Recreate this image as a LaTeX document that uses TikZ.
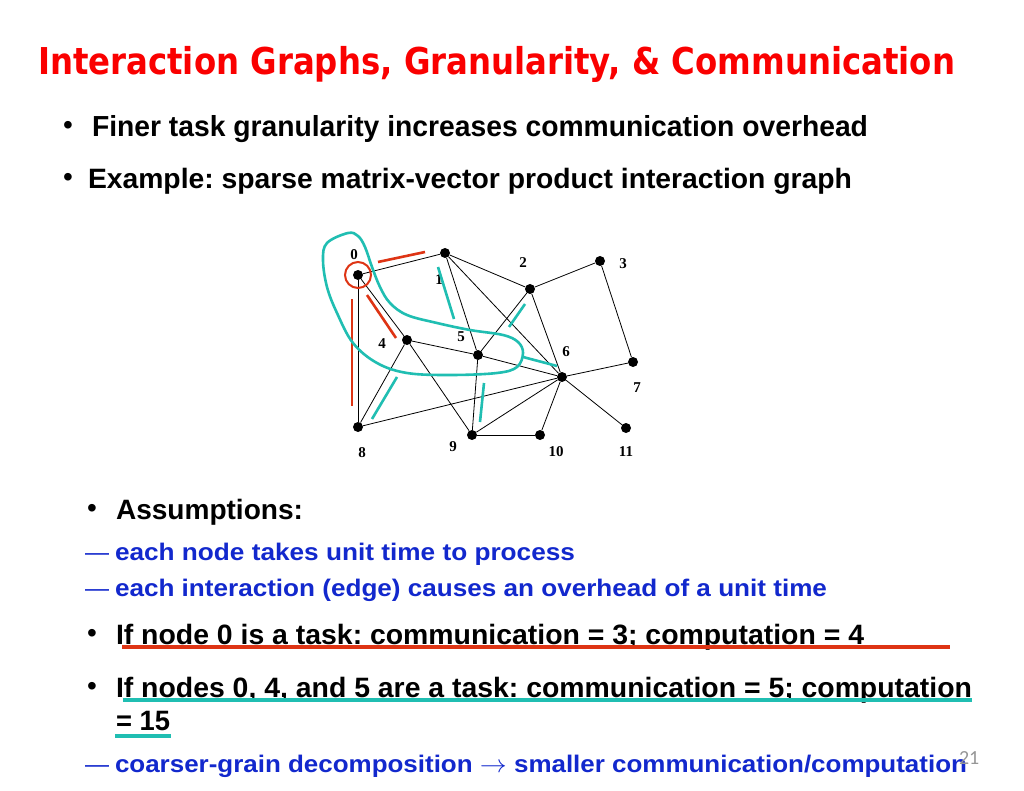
\documentclass[tikz,border=0pt]{standalone}
\usepackage{fontspec}
\setmainfont{Liberation Sans}
\newfontfamily\titlefont{DejaVu Sans}
\newfontfamily\serifb{Liberation Serif}
\newfontfamily\pagefont{Carlito}
\usepackage{graphicx}
\frenchspacing
\definecolor{titlered}{RGB}{250,0,0}
\definecolor{markred}{RGB}{222,52,20}
\definecolor{markteal}{RGB}{32,190,178}
\definecolor{textblue}{RGB}{18,40,205}
\definecolor{pagegray}{RGB}{150,150,150}
\newcommand{\fitw}[2]{\resizebox{#1pt}{\height}{#2}}
\tikzset{
  txt/.style={inner sep=0pt, outer sep=0pt, anchor=base west},
  dot/.style={circle, fill=black, inner sep=0pt, minimum size=10pt},
  edge/.style={draw=black, line width=0.8pt},
  lbl/.style={inner sep=0pt, font=\serifb\bfseries\fontsize{15}{15}\selectfont},
  redstroke/.style={draw=markred, line width=2.6pt},
  tealstroke/.style={draw=markteal, line width=2.6pt},
  bul/.style={inner sep=0pt, outer sep=0pt, anchor=base west, font=\fontsize{28}{30}\selectfont},
}
\begin{document}
\begin{tikzpicture}[x=1pt,y=-1pt]
\useasboundingbox[fill=white] (0,0) rectangle (1024,791);

% title
\node[txt, text=titlered] (title) at (38,75) {\fitw{917}{\titlefont\fontsize{37}{40}\selectfont\bfseries Interaction Graphs, Granularity, \& Communication}};

% bullets top
\node[bul] (b1) at (63,135) {•};
\node[txt] (t1) at (92,137) {\fitw{776}{\fontsize{29}{32}\selectfont\bfseries Finer task granularity increases communication overhead}};
\node[bul] (b2) at (63,187) {•};
\node[txt] (t2) at (88,189) {\fitw{764}{\fontsize{28}{32}\selectfont\bfseries Example: sparse matrix-vector product interaction graph}};

% graph nodes
\node[dot] (n0) at (358,275) {};
\node[dot] (n1) at (445,253) {};
\node[dot] (n2) at (530,289) {};
\node[dot] (n3) at (600,261) {};
\node[dot] (n4) at (407,340) {};
\node[dot] (n5) at (478,355) {};
\node[dot] (n6) at (562,377) {};
\node[dot] (n7) at (633,362) {};
\node[dot] (n8) at (358,427) {};
\node[dot] (n9) at (472,435) {};
\node[dot] (n10) at (540,435) {};
\node[dot] (n11) at (626,428) {};

\foreach \a/\b in {n0/n1,n0/n4,n0/n8,n1/n5,n1/n2,n1/n6,n2/n3,n2/n5,n2/n6,n3/n7,n4/n5,n4/n8,n4/n9,n5/n6,n5/n9,n6/n7,n6/n8,n6/n9,n6/n10,n6/n11,n9/n10}
  \draw[edge] (\a) -- (\b);

% labels
\node[lbl] (l0) at (354,255) {0};
\node[lbl] (l1) at (439,280) {1};
\node[lbl] (l2) at (523,263) {2};
\node[lbl] (l3) at (623,264) {3};
\node[lbl] (l4) at (382,344) {4};
\node[lbl] (l5) at (461,337) {5};
\node[lbl] (l6) at (566,352) {6};
\node[lbl] (l7) at (637,388) {7};
\node[lbl] (l8) at (362,453) {8};
\node[lbl] (l9) at (453,447) {9};
\node[lbl] (l10) at (556,452) {10};
\node[lbl] (l11) at (626,452) {11};

% red annotations
\node[circle, draw=markred, line width=2pt, minimum size=26pt, inner sep=0pt] (c0) at (n0) {};
\draw[redstroke] (378,262) -- (425,252);
\draw[redstroke] (367,295) -- (396,338);
\draw[redstroke] (352,299) -- (352,406);

% teal annotations
\draw[tealstroke] plot[smooth cycle, tension=0.6] coordinates {
 (348,233) (327,243) (323,260) (327,287) (337,313) (353,343) (377,363) (407,373)
 (450,375) (497,373) (517,367) (523,353) (518,342) (503,335) (470,330) (437,323)
 (407,315) (390,303) (380,287) (372,267) (365,247) (358,236)};
\draw[tealstroke] (438,267) -- (454,319);
\draw[tealstroke] (525,304) -- (509,327);
\draw[tealstroke] (523,357) -- (557,366);
\draw[tealstroke] (397,377) -- (372,419);
\draw[tealstroke] (484,383) -- (480,422);

% lower text
\node[bul] (b3) at (87,517) {•};
\node[txt] (t3) at (116,519) {\fitw{187}{\fontsize{28}{32}\selectfont\bfseries Assumptions:}};
\node[txt, text=textblue] (d1) at (85,560) {\fontsize{24}{28}\selectfont —};
\node[txt, text=textblue] (t4) at (115,560) {\fitw{460}{\fontsize{24}{28}\selectfont\bfseries each node takes unit time to process}};
\node[txt, text=textblue] (d2) at (85,596) {\fontsize{24}{28}\selectfont —};
\node[txt, text=textblue] (t5) at (115,596) {\fitw{712}{\fontsize{24}{28}\selectfont\bfseries each interaction (edge) causes an overhead of a unit time}};
\node[bul] (b4) at (87,642) {•};
\node[txt] (t6) at (116,644) {\fitw{748}{\fontsize{28}{32}\selectfont\bfseries If node 0 is a task: communication = 3; computation = 4}};
\node[bul] (b5) at (87,695) {•};
\node[txt] (t7) at (116,697) {\fitw{856}{\fontsize{28}{32}\selectfont\bfseries If nodes 0, 4, and 5 are a task: communication = 5; computation}};
\node[txt] (t8) at (116,730) {\fitw{54}{\fontsize{28}{32}\selectfont\bfseries = 15}};
\node[txt, text=textblue] (d3) at (85,772) {\fontsize{24}{28}\selectfont —};
\node[txt, text=textblue] (t9) at (115,772) {\fitw{852}{\fontsize{24}{28}\selectfont\bfseries coarser-grain decomposition $\rightarrow$ smaller communication/computation}};
\node[txt, text=pagegray] (pg) at (959,764) {\pagefont\fontsize{20}{22}\selectfont 21};

% underlines
\draw[draw=markred, line width=4pt] (122,647) -- (950,647);
\draw[draw=markteal, line width=4pt] (123,700) -- (972,700);
\draw[draw=markteal, line width=4pt] (115,736) -- (171,736);
\end{tikzpicture}
\end{document}
